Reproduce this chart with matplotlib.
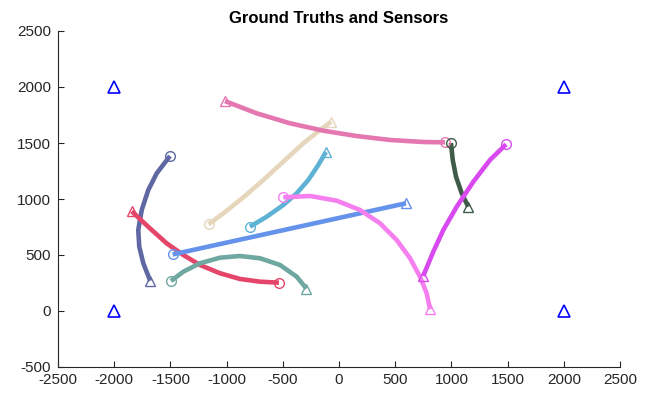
import matplotlib
matplotlib.use("Agg")
import matplotlib.pyplot as plt

plt.rcParams['font.family'] = ['Liberation Sans', 'DejaVu Sans']
plt.rcParams['axes.unicode_minus'] = False

# Sensors
sensor_x = [-2000, -2000, 2000, 2000]
sensor_y = [0, 2000, 0, 2000]

# Ground truth tracks: first point = circle end, last point = triangle end
navy_x = [-1504, -1622, -1697, -1755, -1786, -1777, -1741, -1680]
navy_y = [1384, 1229, 1080, 902, 723, 574, 426, 270]
navy_c = '#5f68a2'

red_x = [-534, -703, -881, -1059, -1237, -1385, -1533, -1682, -1844]
red_y = [253, 262, 286, 337, 411, 500, 604, 738, 890]
red_c = '#e6456a'

blue_x = [-1480, 596]
blue_y = [505, 962]
blue_c = '#6593ec'

teal_x = [-1495, -1385, -1237, -1059, -881, -703, -525, -376, -290]
teal_y = [268, 351, 426, 476, 491, 471, 411, 306, 200]
teal_c = '#6fa7a1'

beige_x = [-1160, -1029, -851, -673, -496, -318, -169, -70]
beige_y = [774, 872, 1015, 1170, 1333, 1497, 1616, 1690]
beige_c = '#e6d6bc'

cyan_x = [-792, -643, -496, -376, -273, -184, -116]
cyan_y = [753, 842, 946, 1051, 1170, 1304, 1420]
cyan_c = '#5eb3d4'

pink_x = [943, 750, 454, 157, -140, -436, -732, -1014]
pink_y = [1506, 1509, 1527, 1562, 1610, 1676, 1765, 1874]
pink_c = '#e577b0'

green_x = [996, 1012, 1041, 1092, 1150]
green_y = [1500, 1348, 1199, 1051, 931]
green_c = '#3e5c48'

mag_x = [1486, 1343, 1195, 1047, 928, 839, 765, 750]
mag_y = [1488, 1348, 1154, 931, 723, 529, 351, 312]
mag_c = '#d84af0'

lpink_x = [-495, -258, -20, 187, 365, 513, 632, 721, 780, 810]
lpink_y = [1015, 1027, 985, 902, 783, 634, 471, 306, 158, 15]
lpink_c = '#f67ff0'

tracks = [
    (navy_x, navy_y, navy_c),
    (red_x, red_y, red_c),
    (blue_x, blue_y, blue_c),
    (teal_x, teal_y, teal_c),
    (beige_x, beige_y, beige_c),
    (cyan_x, cyan_y, cyan_c),
    (pink_x, pink_y, pink_c),
    (green_x, green_y, green_c),
    (mag_x, mag_y, mag_c),
    (lpink_x, lpink_y, lpink_c),
]

x_ticks = [-2500, -2000, -1500, -1000, -500, 0, 500, 1000, 1500, 2000, 2500]
y_ticks = [-500, 0, 500, 1000, 1500, 2000, 2500]

fig = plt.figure(figsize=(6.57, 3.98), dpi=100)
ax = fig.add_axes([58/657, 1-367/398, 562/657, 336/398])

for xs, ys, c in tracks:
    ax.plot(xs, ys, color=c, lw=3.3, solid_capstyle='butt', solid_joinstyle='round', zorder=2)
    ax.plot(xs[0], ys[0], marker='o', ms=7, mfc='none', mec=c, mew=1.0, zorder=3)
    ax.plot(xs[-1], ys[-1], marker='^', ms=7.5, mfc='none', mec=c, mew=1.0, zorder=3)

ax.plot(sensor_x, sensor_y, ls='none', marker='^', ms=8, mfc='none', mec='#0000ff', mew=1.2, zorder=3)

ax.set_xlim(-2500, 2500)
ax.set_ylim(-500, 2500)
ax.set_xticks(x_ticks)
ax.set_yticks(y_ticks)
ax.tick_params(direction='in', length=4, width=0.8, labelsize=11, colors='#262626')
ax.tick_params(axis='y', pad=5)
ax.tick_params(axis='x', pad=4)
ax.spines['top'].set_visible(False)
ax.spines['right'].set_visible(False)
for s in ['left', 'bottom']:
    ax.spines[s].set_color('#262626')
    ax.spines[s].set_linewidth(0.8)
ax.set_title('Ground Truths and Sensors', fontsize=12, fontweight='bold', pad=6)

fig.savefig('out.png', dpi=100)
